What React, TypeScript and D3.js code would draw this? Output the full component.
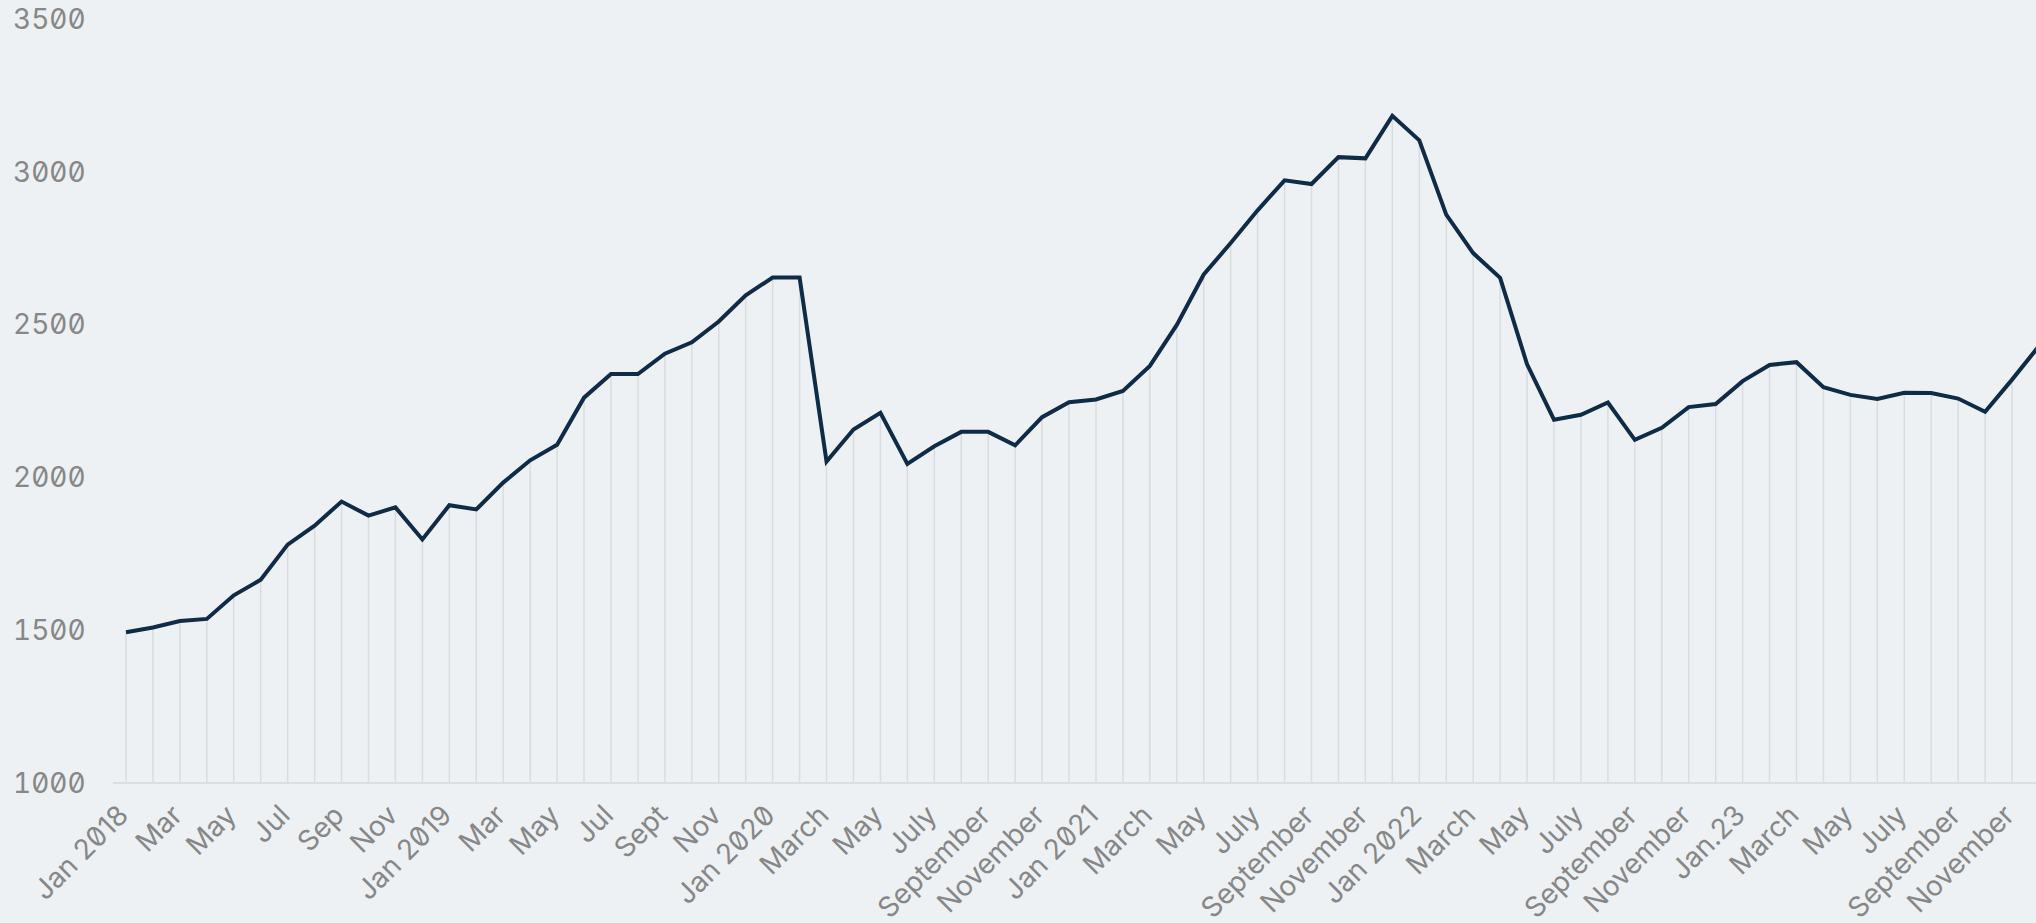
import { useEffect, useRef } from "react";
import * as d3 from "d3";

// monthly values, Jan 2018 .. Dec 2023
const values2018 = [1493, 1509, 1530, 1537, 1614, 1665, 1780, 1842, 1921, 1875, 1902, 1797];
const values2019 = [1909, 1895, 1983, 2056, 2107, 2261, 2338, 2338, 2405, 2442, 2510, 2596];
const values2020 = [2654, 2654, 2052, 2157, 2211, 2044, 2102, 2149, 2149, 2105, 2197, 2246];
const values2021 = [2255, 2283, 2365, 2499, 2664, 2767, 2874, 2972, 2960, 3048, 3044, 3183];
const values2022 = [3103, 2860, 2734, 2653, 2370, 2189, 2205, 2245, 2123, 2162, 2230, 2240];
const values2023 = [2315, 2368, 2377, 2295, 2270, 2257, 2277, 2276, 2258, 2215, 2320, 2430];

// tick labels, one every second month
const monthLabels = [
  "Jan 2018", "Mar", "May", "Jul", "Sep", "Nov",
  "Jan 2019", "Mar", "May", "Jul", "Sept", "Nov",
  "Jan 2020", "March", "May", "July", "September", "November",
  "Jan 2021", "March", "May", "July", "September", "November",
  "Jan 2022", "March", "May", "July", "September", "November",
  "Jan.23", "March", "May", "July", "September", "November",
];

const yTicks = [1000, 1500, 2000, 2500, 3000, 3500];

const W = 2036;
const H = 923;

const Chart = () => {
  const ref = useRef<SVGSVGElement>(null);

  useEffect(() => {
    if (!ref.current) return;
    const svg = d3.select(ref.current);
    svg.selectAll("*").remove();

    const values = [...values2018, ...values2019, ...values2020, ...values2021, ...values2022, ...values2023];
    const data = values.map((v, i) => ({ i, v }));

    const x = d3.scaleLinear().domain([0, values.length - 1]).range([126, 2039]);
    const y = d3.scaleLinear().domain([1000, 3500]).range([783, 19]);

    svg.append("rect").attr("width", W).attr("height", H).attr("fill", "#edf1f4");

    const font = "Inter, 'DejaVu Sans', sans-serif";
    const labelColor = "#878787";

    // drop lines from each point to the baseline
    svg.append("g")
      .selectAll("line")
      .data(data)
      .enter().append("line")
      .attr("x1", d => x(d.i))
      .attr("x2", d => x(d.i))
      .attr("y1", d => y(d.v))
      .attr("y2", y(1000))
      .attr("stroke", "#dadde0")
      .attr("stroke-width", 1.5);

    // baseline
    svg.append("line")
      .attr("x1", 113)
      .attr("x2", W)
      .attr("y1", y(1000))
      .attr("y2", y(1000))
      .attr("stroke", "#dcdfe2")
      .attr("stroke-width", 2);

    // y labels
    svg.append("g")
      .selectAll("text")
      .data(yTicks)
      .enter().append("text")
      .attr("x", 13)
      .attr("y", d => y(d))
      .attr("dy", "0.35em")
      .style("font-family", font)
      .style("font-size", "28px")
      .style("font-feature-settings", "'zero' 1, 'tnum' 1")
      .attr("fill", labelColor)
      .text(d => d);

    // x labels
    svg.append("g")
      .selectAll("text")
      .data(monthLabels)
      .enter().append("text")
      .attr("transform", (d, k) => `translate(${x(k * 2) + 4}, 817) rotate(-45)`)
      .style("text-anchor", "end")
      .style("font-family", font)
      .style("font-size", "28px")
      .style("font-feature-settings", "'zero' 1")
      .attr("fill", labelColor)
      .text(d => d);

    const line = d3.line<{ i: number; v: number }>()
      .x(d => x(d.i))
      .y(d => y(d.v));

    svg.append("path")
      .datum(data)
      .attr("d", line)
      .attr("fill", "none")
      .attr("stroke", "#0f2b46")
      .attr("stroke-width", 4)
      .attr("stroke-linejoin", "miter");
  }, []);

  return (
    <svg
      ref={ref}
      width={W}
      height={H}
      style={{ position: "absolute", left: 0, top: 0, display: "block" }}
    />
  );
};

export default function App() {
  return <Chart />;
}
